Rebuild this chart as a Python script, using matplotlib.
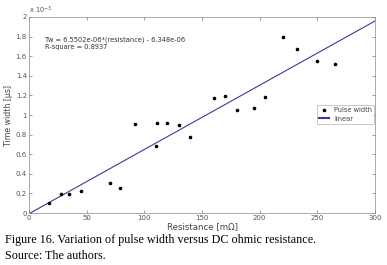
import matplotlib
matplotlib.use("Agg")
import matplotlib.pyplot as plt
import numpy as np
from matplotlib.lines import Line2D

resistance = [17, 28, 35, 45, 70, 79, 92, 110, 111, 120, 130, 140,
              160, 170, 180, 195, 205, 220, 232, 250, 265]
pulse_width = [0.10, 0.19, 0.19, 0.23, 0.31, 0.26, 0.91, 0.68, 0.92, 0.92, 0.90, 0.78,
               1.17, 1.19, 1.05, 1.07, 1.18, 1.80, 1.67, 1.55, 1.52]  # x 1e-3
slope = 6.5502e-06
intercept = -6.348e-06
x_ticks = [0, 50, 100, 150, 200, 250, 300]
y_ticks = [0, 0.2, 0.4, 0.6, 0.8, 1.0, 1.2, 1.4, 1.6, 1.8, 2.0]

plt.rcParams['font.family'] = ['DejaVu Sans']
fig = plt.figure(figsize=(3.87, 2.65), dpi=100)
ax = fig.add_axes([0.075, 0.196, 0.894, 0.740])

line_color = '#3a3a9a'
xs = np.array([0, 300])
ax.plot(xs, slope * xs + intercept, color=line_color, lw=0.8, zorder=2)
ax.plot(resistance, np.array(pulse_width) * 1e-3, 'o', color='black', ms=1.6,
        ls='none', zorder=3)

ax.set_xlim(0, 300)
ax.set_ylim(0, 2e-3)
ax.set_xticks(x_ticks)
ax.set_yticks(np.array(y_ticks) * 1e-3)
ax.set_yticklabels(['0', '0.2', '0.4', '0.6', '0.8', '1', '1.2', '1.4', '1.6', '1.8', '2'])
ax.tick_params(direction='in', length=2.5, width=0.4, labelsize=5.0, colors='#555555',
               top=True, right=True, pad=1.5)
for s in ax.spines.values():
    s.set_linewidth(0.5)
    s.set_color('#888888')
ax.text(0.0, 1.005, r'x 10$^{-3}$', transform=ax.transAxes, fontsize=4.8, color='#555555',
        va='bottom', ha='left')
ax.set_xlabel('Resistance [mΩ]', fontsize=6.2, color='#444444', labelpad=0.5)
ax.set_ylabel('Time width [μs]', fontsize=5.6, color='#444444', labelpad=2)

ax.text(14, 1.80e-3, 'Tw = 6.5502e-06*(resistance) - 6.348e-06\nR-square = 0.8937',
        fontsize=4.8, color='#333333', va='top', ha='left', linespacing=1.2)

handles = [Line2D([], [], marker='o', color='black', ms=1.6, ls='none'),
           Line2D([], [], color=line_color, lw=1.5)]
leg = ax.legend(handles, ['Pulse width', 'linear'], loc='upper right',
                bbox_to_anchor=(0.998, 0.551),
                fontsize=4.8, frameon=True, fancybox=False, handlelength=1.4,
                borderpad=0.35, labelspacing=0.35, handletextpad=0.8, borderaxespad=0.0)
leg.get_frame().set_linewidth(0.4)
leg.get_frame().set_edgecolor('#888888')
for t in leg.get_texts():
    t.set_color('#444444')

fig.text(0.012, 0.083, 'Figure 16. Variation of pulse width versus DC ohmic resistance.',
         fontsize=8.7, family='Liberation Serif', va='baseline', ha='left')
fig.text(0.012, 0.023, 'Source: The authors.',
         fontsize=8.7, family='Liberation Serif', va='baseline', ha='left')

fig.savefig('out.png', dpi=100)
